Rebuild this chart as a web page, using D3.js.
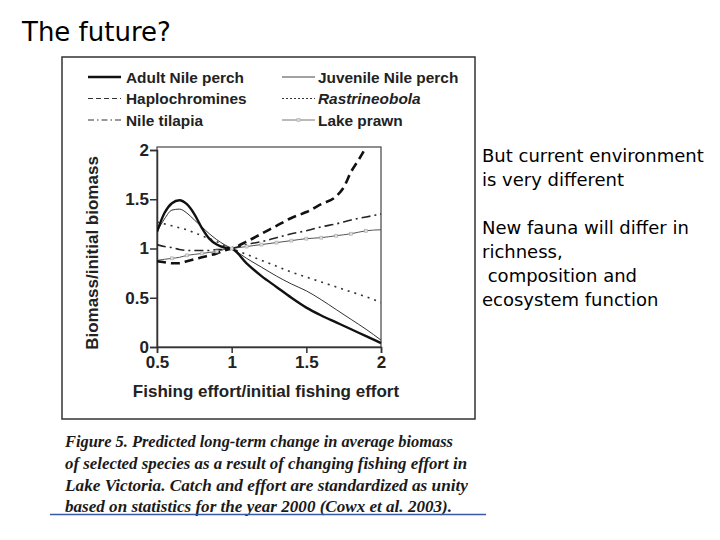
<!DOCTYPE html>
<html><head><meta charset="utf-8">
<script src="https://cdn.jsdelivr.net/npm/d3@7"></script>
<style>
body{margin:0;background:#fff;}
svg{display:block;}
</style></head>
<body>
<svg id="c" width="720" height="540"></svg>
<script>
// ---- data ----
const effort = [0.5,0.55,0.6,0.65,0.7,0.75,0.8,0.85,0.9,0.95,1.0,1.1,1.2,1.3,1.4,1.5,1.6,1.7,1.8,1.9,2.0];
const adultNilePerch    = [1.17,1.36,1.46,1.49,1.45,1.35,1.21,1.10,1.04,1.01,1.00,0.85,0.72,0.61,0.50,0.40,0.32,0.25,0.18,0.11,0.04];
const juvenileNilePerch = [1.17,1.30,1.39,1.40,1.36,1.29,1.22,1.15,1.09,1.04,1.00,0.90,0.81,0.72,0.64,0.57,0.48,0.38,0.28,0.18,0.07];
const rastrineobola     = [1.27,1.25,1.23,1.21,1.19,1.16,1.13,1.10,1.07,1.03,1.00,0.94,0.88,0.82,0.76,0.71,0.66,0.61,0.56,0.51,0.45];
const nileTilapia       = [1.04,1.02,1.01,0.99,0.98,0.98,0.98,0.98,0.99,0.99,1.00,1.04,1.07,1.11,1.15,1.18,1.22,1.25,1.29,1.32,1.35];
const lakePrawn         = [0.88,0.89,0.90,0.91,0.93,0.94,0.95,0.96,0.97,0.99,1.00,1.02,1.04,1.06,1.08,1.10,1.11,1.13,1.15,1.18,1.19];
const hapEffort         = [0.5,0.55,0.6,0.65,0.7,0.75,0.8,0.85,0.9,0.95,1.0,1.1,1.2,1.3,1.4,1.5,1.6,1.7,1.75,1.8,1.85,1.9];
const haplochromines    = [0.87,0.86,0.85,0.85,0.87,0.89,0.91,0.93,0.95,0.98,1.00,1.07,1.15,1.23,1.31,1.37,1.45,1.53,1.62,1.78,1.90,2.03];
const prawnMarkers      = [0.6,0.7,0.8,0.9,1.0,1.1,1.2,1.3,1.4,1.5,1.6,1.7,1.8,1.9];
const xTicks = [0.5,1,1.5,2];
const yTicks = [0,0.5,1,1.5,2];
const legendNames = ["Adult Nile perch","Juvenile Nile perch","Haplochromines","Rastrineobola","Nile tilapia","Lake prawn"];
const captionLines = [
  "Figure 5. Predicted long-term change in average biomass",
  "of selected species as a result of changing fishing effort in",
  "Lake Victoria. Catch and effort are standardized as unity",
  "based on statistics for the year 2000 (Cowx et al. 2003)."
];
const sideText = ["But current environment","is very different","","New fauna will differ in","richness,"," composition and","ecosystem function"];

// ---- drawing ----
const svg = d3.select("#c");
const sans = "'Liberation Sans', Arial, sans-serif";
const comic = "'Comic Sans MS','DejaVu Sans',sans-serif";

svg.append("text").attr("x",22).attr("y",41)
  .attr("font-family",comic).attr("font-size",26)
  .attr("fill","#000").text("The future?");

// figure box
svg.append("rect").attr("x",62).attr("y",57).attr("width",413).attr("height",362)
  .attr("fill","#fff").attr("stroke","#333").attr("stroke-width",1.5);

const x = d3.scaleLinear().domain([0.5,2]).range([157,381]);
const y = d3.scaleLinear().domain([0,2]).range([347,150]);

// plot frame
svg.append("rect").attr("x",157).attr("y",147).attr("width",224).attr("height",200)
  .attr("fill","none").attr("stroke","#444").attr("stroke-width",1.2);

const xAxis = svg.append("g").attr("transform","translate(0,347)")
  .call(d3.axisBottom(x).tickValues(xTicks).tickSize(6).tickFormat(d3.format("")));
const yAxis = svg.append("g").attr("transform","translate(157,0)")
  .call(d3.axisLeft(y).tickValues(yTicks).tickSize(7).tickFormat(d3.format("")));
[xAxis,yAxis].forEach(g=>{
  g.attr("font-size",17).attr("font-family",sans).attr("font-weight","bold");
  g.select(".domain").attr("stroke","#333").attr("stroke-width",1.5);
  g.selectAll(".tick line").attr("stroke","#333").attr("stroke-width",1.5);
  g.selectAll(".tick text").style("font-size","17px").style("font-family",sans)
    .style("font-weight","bold").attr("fill","#222");
});
xAxis.selectAll(".tick text").attr("y",9).attr("dy","0.71em");
yAxis.selectAll(".tick text").attr("x",-8);

svg.append("text").attr("transform","translate(98,253) rotate(-90)")
  .attr("text-anchor","middle").attr("font-family",sans).attr("font-weight","bold")
  .attr("font-size",17).attr("fill","#222").text("Biomass/initial biomass");
svg.append("text").attr("x",266).attr("y",397).attr("text-anchor","middle")
  .attr("font-family",sans).attr("font-weight","bold").attr("font-size",17)
  .attr("fill","#222").text("Fishing effort/initial fishing effort");

// clip
svg.append("clipPath").attr("id","pc").append("rect")
  .attr("x",157).attr("y",147).attr("width",225).attr("height",201);

const line = d3.line().x(d=>x(d[0])).y(d=>y(d[1])).curve(d3.curveMonotoneX);
const zip = (xs,ys)=>xs.map((v,i)=>[v,ys[i]]);
const series = [
  {v:zip(effort,lakePrawn), w:1, c:"#555", dash:null},
  {v:zip(effort,nileTilapia), w:1.6, c:"#222", dash:"9,4,2,4"},
  {v:zip(effort,rastrineobola), w:1.6, c:"#333", dash:"2,5"},
  {v:zip(hapEffort,haplochromines), w:2.6, c:"#111", dash:"9,5"},
  {v:zip(effort,juvenileNilePerch), w:1, c:"#333", dash:null},
  {v:zip(effort,adultNilePerch), w:2.4, c:"#111", dash:null}
];
const pg = svg.append("g").attr("clip-path","url(#pc)");
series.forEach(s=>{
  pg.append("path").attr("d",line(s.v)).attr("fill","none")
    .attr("stroke",s.c).attr("stroke-width",s.w)
    .attr("stroke-dasharray",s.dash).attr("stroke-linecap","butt");
});
const prawnInterp = d3.scaleLinear().domain(effort).range(lakePrawn);
pg.selectAll("rect.pm").data(prawnMarkers).join("rect").attr("class","pm")
  .attr("x",d=>x(d)-1.5).attr("y",d=>y(prawnInterp(d))-1.5).attr("width",3).attr("height",3)
  .attr("fill","#ddd").attr("stroke","#aaa").attr("stroke-width",0.6);

// legend
const legendStyles = [
  {w:2.4,c:"#111",dash:null},{w:1,c:"#444",dash:null},
  {w:1.2,c:"#333",dash:"5,3"},{w:1.2,c:"#333",dash:"2,2"},
  {w:1.2,c:"#333",dash:"6,3,1.5,3"},{w:1,c:"#777",dash:null}
];
const lg = svg.append("g");
legendNames.forEach((n,i)=>{
  const col = i%2, row = Math.floor(i/2);
  const lx = col===0 ? 88 : 282, lx2 = col===0 ? 121 : 315;
  const ly = 77 + row*21.5;
  const st = legendStyles[i];
  lg.append("line").attr("x1",lx).attr("x2",lx2).attr("y1",ly).attr("y2",ly)
    .attr("stroke",st.c).attr("stroke-width",st.w).attr("stroke-dasharray",st.dash);
  if(n==="Lake prawn"){
    lg.append("rect").attr("x",(lx+lx2)/2-1.5).attr("y",ly-1.5).attr("width",3).attr("height",3)
      .attr("fill","#ddd").attr("stroke","#aaa").attr("stroke-width",0.6);
  }
  lg.append("text").attr("x",col===0?126:318).attr("y",ly+5.5)
    .attr("font-family",sans).attr("font-weight","bold").attr("font-size",15.4)
    .attr("font-style",n==="Rastrineobola"?"italic":"normal")
    .attr("fill","#222").text(n);
});

// caption
const capEnds = [453,467,468,452];
const capY = [447,469,491,512];
captionLines.forEach((t,i)=>{
  svg.append("text").attr("x",65).attr("y",capY[i])
    .attr("font-family","'Liberation Serif','DejaVu Serif',serif").attr("font-weight","bold")
    .attr("font-style","italic").attr("font-size",17).attr("fill","#1a1a1a")
    .attr("textLength",capEnds[i]-65).attr("lengthAdjust","spacingAndGlyphs").text(t);
});
svg.append("line").attr("x1",50).attr("x2",486).attr("y1",514.5).attr("y2",514.5)
  .attr("stroke","#3a5aa8").attr("stroke-width",1.6);

// side text
const sideY = [162,186,210,234,258,282,306];
sideText.forEach((t,i)=>{
  if(!t) return;
  svg.append("text").attr("x",482).attr("y",sideY[i]).attr("xml:space","preserve")
    .style("white-space","pre")
    .attr("font-family",comic).attr("font-size",18)
    .attr("fill","#000").text(t);
});
</script>
</body></html>
